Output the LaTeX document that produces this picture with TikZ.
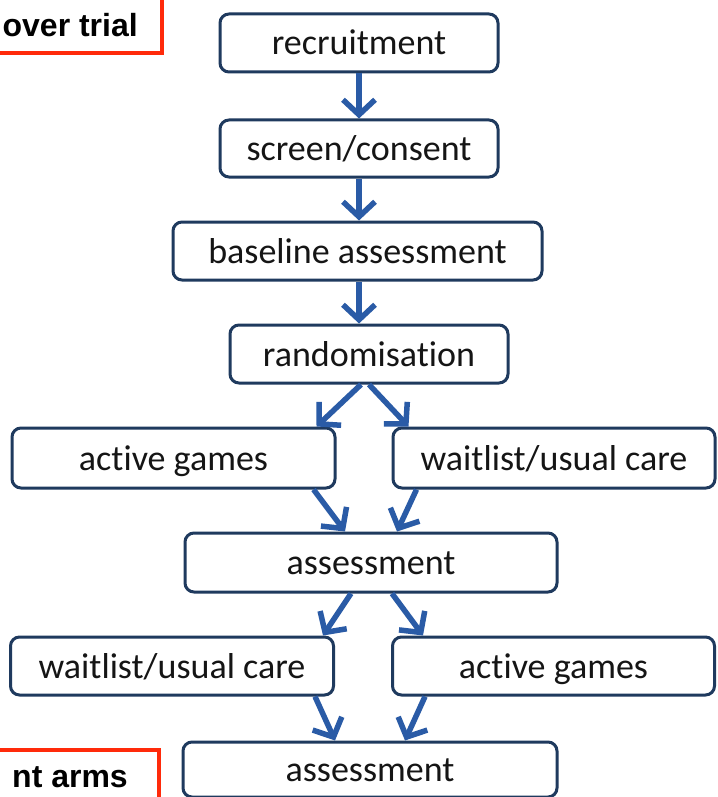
\documentclass[tikz,border=0pt]{standalone}
\usepackage{fontspec}
\setmainfont{Carlito}[Ligatures=NoCommon]
\newfontfamily\labelfont{Liberation Sans}
\usetikzlibrary{arrows.meta}

\definecolor{boxline}{HTML}{1F3A5E}
\definecolor{flowblue}{HTML}{2A5BA6}
\definecolor{tagred}{HTML}{FF2A0A}
\definecolor{txt}{HTML}{151515}

\tikzset{
  stage/.style={draw=boxline, line width=3pt, rounded corners=9pt, fill=white,
    inner sep=0pt, text=txt, font=\fontsize{36}{40}\selectfont,
    text height=27pt, text depth=3pt},
  flow/.style={draw=flowblue, line width=5.5pt,
    -{Straight Barb[length=15pt, width=32pt, line width=5.5pt]}},
  tag/.style={draw=tagred, line width=4.5pt, fill=white},
  tagtext/.style={inner sep=0pt, text=black,
    font=\labelfont\bfseries\fontsize{32}{36}\selectfont}
}

\begin{document}
\begin{tikzpicture}[x=1pt, y=-1pt]
  \useasboundingbox (0,0) rectangle (717,797);
  \clip (0,0) rectangle (717,797);
  \fill[white] (0,0) rectangle (717,797);

  % red tags, cut by the frame edge
  \draw[tag] (-20,-20) rectangle (162,53);
  \node[tagtext, anchor=base east] (tagtop) at (138,37) {over trial};
  \draw[tag] (-20,750) rectangle (159,820);
  \node[tagtext, anchor=base east] (tagbot) at (128,787) {nt arms};

  % stages of the trial
  \node[stage, minimum width=278pt, minimum height=58pt] (rec)  at (359,43)    {recruitment};
  \node[stage, minimum width=278pt, minimum height=57pt] (scr)  at (359,148.5) {screen/consent};
  \node[stage, minimum width=369pt, minimum height=58pt] (base) at (357.5,251) {baseline assessment};
  \node[stage, minimum width=278pt, minimum height=58pt] (rand) at (369,354)   {randomisation};
  \node[stage, minimum width=323pt, minimum height=60pt] (agA)  at (173.5,458) {active games};
  \node[stage, minimum width=322pt, minimum height=60pt] (wlA)  at (554,458)   {waitlist/usual care};
  \node[stage, minimum width=372pt, minimum height=59pt] (asA)  at (371,562.5) {assessment};
  \node[stage, minimum width=323pt, minimum height=58pt] (wlB)  at (172,666)   {waitlist/usual care};
  \node[stage, minimum width=322pt, minimum height=58pt] (agB)  at (553.5,666) {active games};
  \node[stage, minimum width=374pt, minimum height=55pt] (asB)  at (370,769.5) {assessment};

  % straight run down to randomisation
  \draw[flow] (rec.south) -- (rec.south |- scr.north);
  \draw[flow] (scr.south) -- (scr.south |- base.north);
  \draw[flow] ([xshift=1.5pt]base.south) -- ([xshift=1.5pt]base.south |- rand.north);

  % split into the two arms
  \draw[flow] ([xshift=-8pt]rand.south) -- ([xshift=-20pt]agA.north east);
  \draw[flow] ([xshift=0pt]rand.south)  -- ([xshift=17pt]wlA.north west);

  % join at the first assessment
  \draw[flow] ([xshift=-23pt]agA.south east) -- ([xshift=-26pt]asA.north);
  \draw[flow] ([xshift=25pt]wlA.south west)  -- ([xshift=26pt]asA.north);

  % cross over
  \draw[flow] ([xshift=-20pt]asA.south) -- ([xshift=-12pt]wlB.north east);
  \draw[flow] ([xshift=21pt]asA.south)  -- ([xshift=32pt]agB.north west);

  % join at the final assessment
  \draw[flow] ([xshift=-20pt]wlB.south east) -- ([xshift=-35pt]asB.north);
  \draw[flow] ([xshift=34pt]agB.south west)  -- ([xshift=35pt]asB.north);
\end{tikzpicture}
\end{document}
